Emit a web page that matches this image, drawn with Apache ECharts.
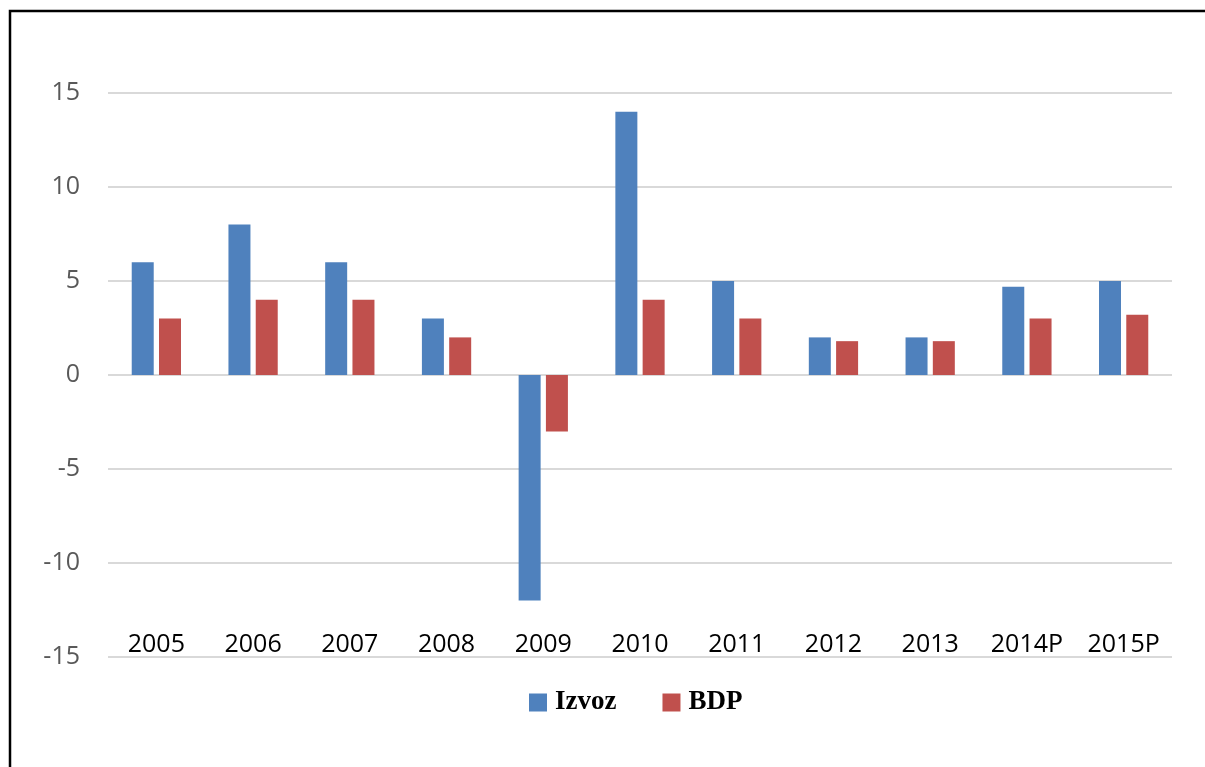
<!DOCTYPE html>
<html>
<head>
<meta charset="utf-8">
<script src="https://cdn.jsdelivr.net/npm/echarts@6/dist/echarts.min.js"></script>
<style>
html,body{margin:0;padding:0;background:#fff;}
#chart{width:1205px;height:767px;}
</style>
</head>
<body>
<div id="chart"></div>
<script>
var categories = ['2005','2006','2007','2008','2009','2010','2011','2012','2013','2014P','2015P'];
var izvoz = [6, 8, 6, 3, -12, 14, 5, 2, 2, 4.7, 5];
var bdp = [3, 4, 4, 2, -3, 4, 3, 1.8, 1.8, 3, 3.2];
var seriesNames = ['Izvoz', 'BDP'];
var yMin = -15, yMax = 15, yStep = 5;

var chart = echarts.init(document.getElementById('chart'), null, {renderer: 'canvas'});
chart.setOption({
  backgroundColor: '#ffffff',
  animation: false,
  grid: {left: 108, right: 33, top: 93, bottom: 110, containLabel: false},
  legend: {
    data: seriesNames,
    left: 524, top: 684,
    icon: 'rect', itemWidth: 18, itemHeight: 18, itemGap: 46,
    textStyle: {fontFamily: 'Liberation Serif', fontWeight: 'bold', fontSize: 27, color: '#000', padding: [0,0,0,3]}
  },
  xAxis: {
    type: 'category',
    data: categories,
    position: 'bottom',
    axisLine: {show: false, onZero: false},
    axisTick: {show: false},
    axisLabel: {margin: -25, fontFamily: 'Open Sans', fontSize: 25, color: '#000'}
  },
  yAxis: {
    type: 'value',
    min: yMin, max: yMax, interval: yStep,
    axisLine: {show: false},
    axisTick: {show: false},
    axisLabel: {margin: 28, fontFamily: 'Open Sans', fontSize: 25, color: '#595959'},
    splitLine: {lineStyle: {color: '#d9d9d9', width: 2}}
  },
  series: [
    {name: seriesNames[0], type: 'bar', data: izvoz, barWidth: 22, barGap: '24%', itemStyle: {color: '#4F81BD'}},
    {name: seriesNames[1], type: 'bar', data: bdp, barWidth: 22, barGap: '24%', itemStyle: {color: '#C0504D'}}
  ],
  graphic: [
    {type: 'polyline', shape: {points: [[10, 767], [10, 11], [1205, 11]]}, style: {stroke: '#000', lineWidth: 2.5, fill: null}, silent: true}
  ]
});
</script>
</body>
</html>
